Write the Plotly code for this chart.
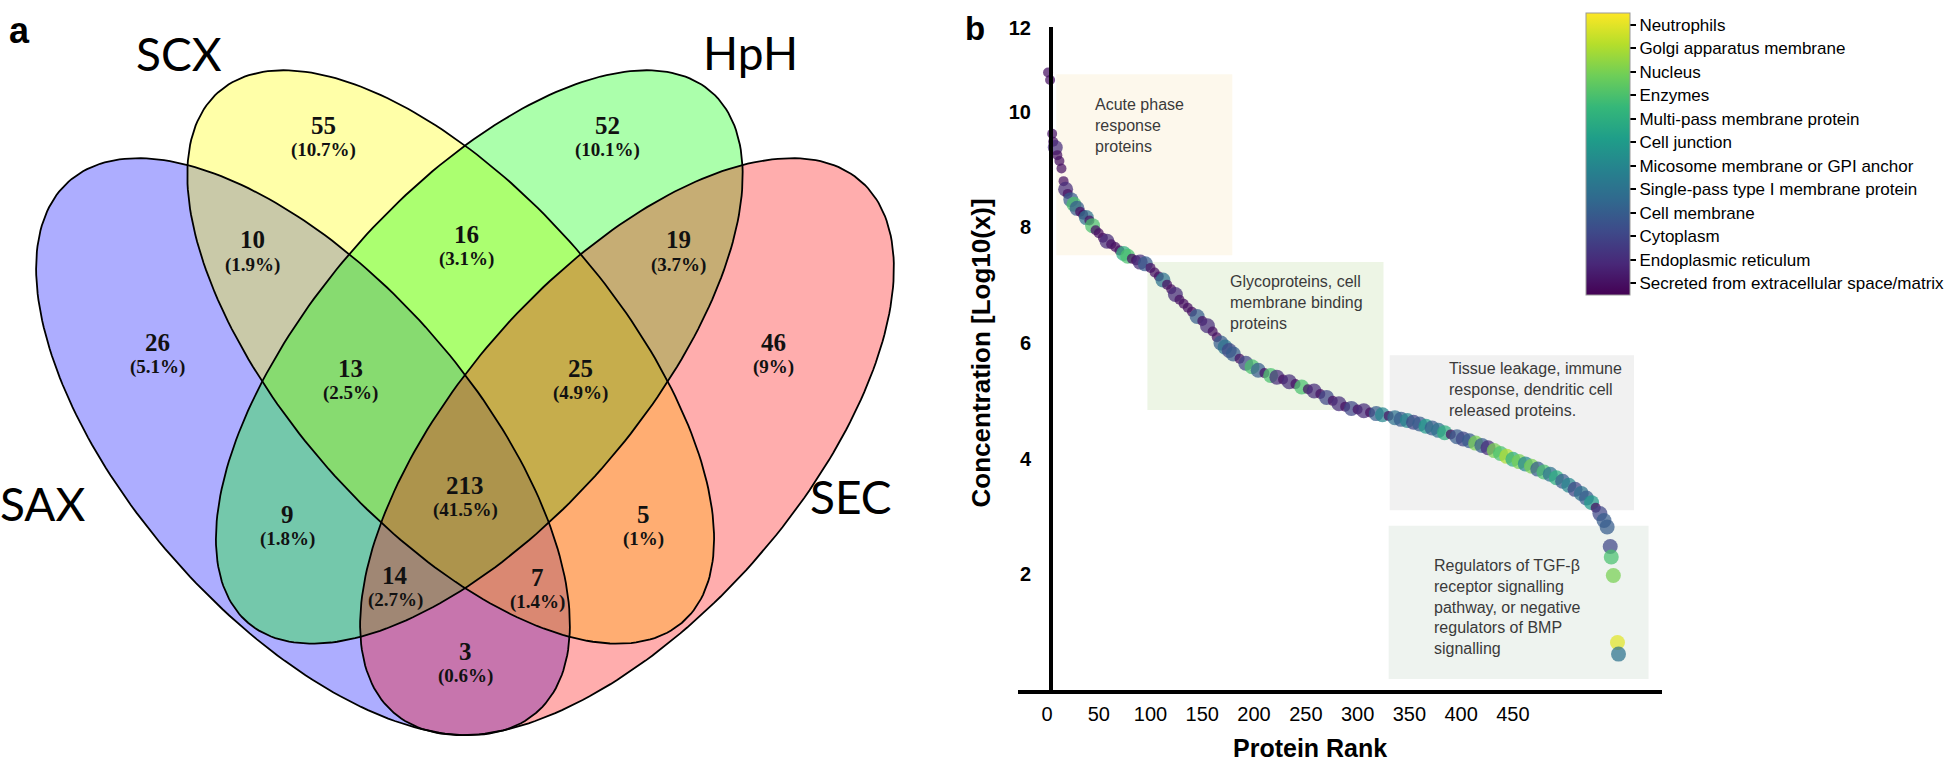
import numpy as np
import plotly.graph_objects as go

W, H = 1960, 762

# ---------------- panel a : Venn counts ----------------
set_names = ["SAX", "SCX", "HpH", "SEC"]
venn_counts = [55, 52, 10, 16, 19, 26, 13, 25, 46, 9, 213, 5, 14, 7, 3]
venn_pcts = ["10.7", "10.1", "1.9", "3.1", "3.7", "5.1", "2.5", "4.9", "9",
             "1.8", "41.5", "1", "2.7", "1.4", "0.6"]

# ---------------- panel b : protein rank vs concentration ----------------
rank = [1, 3, 5, 6, 8, 10, 12, 14, 16, 18, 20, 23, 26, 29, 32, 35, 38, 41, 44, 47,
        50, 54, 58, 62, 66, 70, 74, 78, 82, 86, 90, 95, 100, 104, 108, 112, 116, 120,
        124, 128, 132, 136, 140, 145, 150, 155, 160, 164, 168, 172, 176, 180, 186,
        192, 198, 204, 210, 216, 222, 228, 234, 240, 246, 252, 258, 264, 270, 276,
        282, 288, 294, 300, 306, 312, 318, 324, 330, 336, 342, 348, 354, 360, 366,
        372, 378, 384, 390, 396, 402, 408, 414, 420, 426, 432, 438, 444, 450, 456,
        462, 468, 474, 480, 486, 492, 498, 504, 510, 516, 521, 526, 530, 534, 538,
        541, 544, 545, 547, 551, 552]
conc = [10.68, 10.55, 9.62, 9.48, 9.38, 9.25, 9.15, 9.02, 8.80, 8.66, 8.58, 8.48, 8.40,
        8.33, 8.27, 8.22, 8.17, 8.12, 8.03, 7.95, 7.90, 7.82, 7.76, 7.71, 7.66, 7.60,
        7.55, 7.50, 7.46, 7.43, 7.40, 7.37, 7.30, 7.22, 7.15, 7.09, 7.01, 6.93, 6.84,
        6.75, 6.68, 6.61, 6.54, 6.46, 6.38, 6.30, 6.20, 6.10, 6.00, 5.93, 5.87, 5.81,
        5.73, 5.65, 5.59, 5.53, 5.48, 5.44, 5.41, 5.37, 5.33, 5.29, 5.24, 5.20, 5.17,
        5.12, 5.06, 5.00, 4.95, 4.90, 4.87, 4.85, 4.83, 4.80, 4.78, 4.76, 4.74, 4.71,
        4.68, 4.66, 4.63, 4.60, 4.56, 4.53, 4.49, 4.45, 4.42, 4.38, 4.34, 4.31, 4.27,
        4.23, 4.19, 4.14, 4.09, 4.04, 3.99, 3.95, 3.91, 3.87, 3.82, 3.77, 3.73, 3.67,
        3.61, 3.54, 3.47, 3.40, 3.32, 3.24, 3.15, 3.05, 2.93, 2.82, 2.48, 2.30, 1.98,
        0.82, 0.62]
loc = [0, 0, 0, 0, 1, 0, 0, 0, 0, 1, 0, 3, 8, 3, 0, 0, 4, 0, 8, 0,
       0, 0, 1, 0, 0, 0, 7, 8, 0, 0, 1, 3, 0, 0, 0, 4, 0, 0,
       1, 0, 0, 0, 0, 3, 0, 1, 0, 0, 3, 4, 2, 3, 0,
       2, 8, 3, 0, 8, 1, 0, 1, 0, 8, 0, 1, 0, 2, 0,
       1, 0, 2, 0, 1, 0, 3, 5, 0, 4, 3, 5, 2, 3, 6,
       3, 4, 7, 0, 3, 2, 3, 9, 3, 1, 9, 8, 10, 7, 9,
       5, 9, 3, 8, 4, 7, 3, 5, 2, 4, 3, 6, 0, 2, 3,
       3, 2, 8, 9, 11, 4]
loc_names = ["Secreted from extracellular space/matrix", "Endoplasmic reticulum",
             "Cytoplasm", "Cell membrane", "Single-pass type I membrane protein",
             "Micosome membrane or GPI anchor", "Cell junction",
             "Multi-pass membrane protein", "Enzymes", "Nucleus",
             "Golgi apparatus membrane", "Neutrophils"]
x_ticks = [0, 50, 100, 150, 200, 250, 300, 350, 400, 450]
y_tick_text = ["2", "4", "6", "8", "10", "12"]
y_tick_pos = [2, 4, 6, 8, 10, 11.45]

box_text = ["Acute phase<br>response<br>proteins",
            "Glycoproteins, cell<br>membrane binding<br>proteins",
            "Tissue leakage, immune<br>response, dendritic cell<br>released proteins.",
            "Regulators of TGF-β<br>receptor signalling<br>pathway, or negative<br>"
            "regulators of BMP<br>signalling"]


def px(x):
    return x / W


def py(y):
    return 1 - y / H


def ellipse(cx, cy, a, b, deg, n=240):
    t = np.linspace(0, 2 * np.pi, n)
    th = np.radians(deg)
    x = cx + a * np.cos(t) * np.cos(th) - b * np.sin(t) * np.sin(th)
    y = cy + a * np.cos(t) * np.sin(th) + b * np.sin(t) * np.cos(th)
    return x, y


def mirror(p, axis=930):
    return (axis - p[0], p[1], p[2], p[3], 180 - p[4])


# ellipse geometry in pixels of the left half: centre x, centre y, semi-axes, tilt
sax_geo = (303.0, 442.5, 356.5, 172.1, 49.2)
scx_geo = (450.7, 351.6, 355.0, 166.6, 49.4)
shapes_geo = {"SAX": sax_geo, "SCX": scx_geo, "HpH": mirror(scx_geo), "SEC": mirror(sax_geo)}
fills = {"SAX": "rgba(0,0,255,0.32)", "SCX": "rgba(255,255,0,0.34)",
         "HpH": "rgba(0,255,0,0.33)", "SEC": "rgba(255,0,0,0.32)"}

fig = go.Figure()
for s in set_names:
    ex, ey = ellipse(*shapes_geo[s])
    fig.add_trace(go.Scatter(x=ex, y=ey, fill="toself", fillcolor=fills[s],
                             mode="none", xaxis="x2", yaxis="y2",
                             hoverinfo="skip", showlegend=False))
for s in set_names:
    ex, ey = ellipse(*shapes_geo[s])
    fig.add_trace(go.Scatter(x=ex, y=ey, mode="lines", line=dict(color="black", width=1.8),
                             xaxis="x2", yaxis="y2", hoverinfo="skip", showlegend=False))

label_xy = [(323, 117), (607, 117), (252, 233), (466, 227), (678, 233), (157, 337),
            (350, 363), (580, 363), (773, 337), (287, 511), (465, 482), (643, 511),
            (395, 573), (537, 575), (465, 650)]
ann = []
for (lx, ly), c, p in zip(label_xy, venn_counts, venn_pcts):
    ann.append(dict(x=lx, y=ly, xref="x2", yref="y2", text=f"<b>{c}</b>", showarrow=False,
                    font=dict(family="Liberation Serif, Times New Roman", size=25, color="#111")))
    ann.append(dict(x=lx, y=ly + 25, xref="x2", yref="y2", text=f"<b>({p}%)</b>", showarrow=False,
                    font=dict(family="Liberation Serif, Times New Roman", size=19, color="#111")))

set_xy = {"SAX": (42, 500), "SCX": (179, 44), "HpH": (750, 43), "SEC": (851, 493)}
for s in set_names:
    ann.append(dict(x=set_xy[s][0], y=set_xy[s][1], xref="x2", yref="y2", text=s,
                    xanchor="center", yanchor="middle", showarrow=False,
                    font=dict(family="Lato, Open Sans", size=46, color="black")))

ann.append(dict(x=px(19), y=py(21), xref="paper", yref="paper", text="<b>a</b>",
                xanchor="center", yanchor="middle", showarrow=False,
                font=dict(family="Liberation Sans, Arial", size=36, color="black")))
ann.append(dict(x=px(975), y=py(19), xref="paper", yref="paper", text="<b>b</b>",
                xanchor="center", yanchor="middle", showarrow=False,
                font=dict(family="Liberation Sans, Arial", size=33, color="black")))

# panel b: shaded category boxes (data coords)
box_ext = [(9, 179, 7.52, 10.65, "#fdf8ec"), (97, 325, 4.84, 7.40, "#edf5e5"),
           (331, 567, 3.11, 5.79, "#f1f1f1"), (330, 581, 0.19, 2.84, "#eef3ef")]
shapes = []
for x0, x1, y0, y1, col in box_ext:
    shapes.append(dict(type="rect", xref="x", yref="y", x0=x0, x1=x1, y0=y0, y1=y1,
                       fillcolor=col, line=dict(width=0), layer="below"))
text_xy = [(1093, 85), (1228, 264), (1447, 353), (1432, 552)]
for (tx, ty), t in zip(text_xy, box_text):
    ann.append(dict(x=px(tx), y=py(ty), xref="paper", yref="paper", text=t, align="left",
                    xanchor="left", yanchor="top", showarrow=False,
                    font=dict(family="Liberation Sans, Arial", size=16, color="#3a3a3a")))

sizes = [10 if c == 0 else 15 for c in loc]
fig.add_trace(go.Scatter(
    x=rank, y=conc, mode="markers", showlegend=False,
    marker=dict(color=loc, size=sizes, opacity=0.72, colorscale="Viridis",
                cmin=-0.5, cmax=11.5, line=dict(width=0),
                colorbar=dict(tickvals=list(range(12)), ticktext=loc_names,
                              ticks="outside", ticklen=6, tickwidth=1.5, tickcolor="black",
                              thickness=44, thicknessmode="pixels", len=282, lenmode="pixels",
                              x=px(1586), xanchor="left", y=py(3), yanchor="top",
                              xpad=0, ypad=0, outlinewidth=1, outlinecolor="#999",
                              tickfont=dict(family="Liberation Sans, Arial", size=17,
                                            color="black"))),
    hovertemplate="rank %{x}<br>%{y}<extra></extra>"))

ann.append(dict(x=px(1310), y=py(748), xref="paper", yref="paper", text="<b>Protein Rank</b>",
                xanchor="center", yanchor="middle", showarrow=False,
                font=dict(family="Liberation Sans, Arial", size=25, color="black")))
ann.append(dict(x=px(981), y=py(347), xref="paper", yref="paper",
                text="<b>Concentration [Log10(x)]</b>", textangle=-90,
                xanchor="center", yanchor="middle", showarrow=False,
                font=dict(family="Liberation Sans, Arial", size=26, color="black")))

tick_font = dict(family="Liberation Sans Narrow, Liberation Sans, Arial", size=20, color="black")
fig.update_layout(
    width=W, height=H, margin=dict(l=0, r=0, t=0, b=0),
    paper_bgcolor="white", plot_bgcolor="rgba(0,0,0,0)",
    xaxis=dict(domain=[px(1018), px(1662)], range=[-28, 594], anchor="y",
               showline=True, linewidth=4, linecolor="black", showgrid=False, zeroline=False,
               tickvals=x_ticks, ticks="", ticklabelstandoff=3, tickfont=tick_font,
               tickprefix="<b>", ticksuffix="</b>"),
    yaxis=dict(domain=[py(689), py(17)], range=[0, 11.47], anchor="free", position=px(1051),
               showline=True, linewidth=4, linecolor="black", showgrid=False, zeroline=False,
               tickvals=y_tick_pos, ticktext=[f"<b>{t}</b>" for t in y_tick_text], ticks="",
               ticklabelstandoff=14, tickfont=tick_font),
    xaxis2=dict(domain=[0, 0.5], range=[0, 980], visible=False, anchor="y2"),
    yaxis2=dict(domain=[0, 1], range=[762, 0], visible=False, anchor="x2"),
    shapes=shapes, annotations=ann,
)

# the page's default 8px body margin would shift the whole figure
fig.write_html("out.html", config={"displayModeBar": False},
               post_script="document.body.style.margin='0';document.body.style.overflow='hidden';")
